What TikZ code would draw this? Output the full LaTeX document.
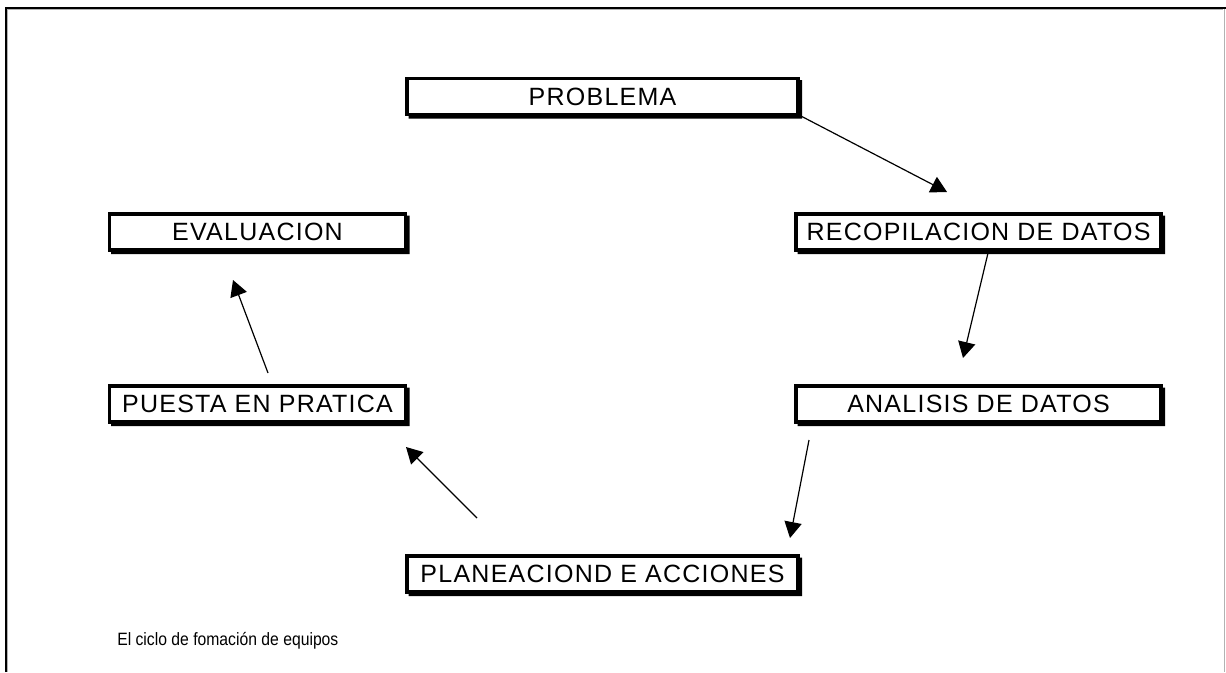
\documentclass[tikz,border=0pt]{standalone}
\usepackage{fontspec}
\setmainfont{Liberation Sans}
\newfontfamily\boxfont[LetterSpace=5]{Liberation Sans}
\newfontfamily\captfont[FakeStretch=0.88]{Liberation Sans}
\usetikzlibrary{arrows.meta,calc}
\begin{document}
\begin{tikzpicture}[x=0.75pt,y=-0.75pt,
  box/.style={draw, rectangle, line width=2.6pt, inner sep=0pt, outer sep=0pt,
    minimum height=27pt, font=\boxfont\fontsize{18.75pt}{20pt}\selectfont},
  conn/.style={line width=0.9pt, -{Triangle[length=12pt,width=13pt]}},
  capt/.style={font=\captfont\fontsize{13.4pt}{15pt}\selectfont, anchor=base west, inner sep=0pt}]
\useasboundingbox (0,0) rectangle (1226,672);
% frame
\draw[line width=1.5pt] (5.5,672) -- (5.5,7.5) -- (1226,7.5);
\draw[line width=0.75pt, gray!60] (7.5,672) -- (7.5,9.5) -- (1223,9.5);
\draw[line width=0.75pt, gray!60] (1224.5,9) -- (1224.5,672);
% boxes
\node[box, minimum width=293.25pt] (p) at (602.5,96.5) {PROBLEMA};
\node[box, minimum width=273.75pt] (r) at (978.5,232) {RECOPILACION DE DATOS};
\node[box, minimum width=222pt] (e) at (257.5,232) {EVALUACION};
\node[box, minimum width=222pt] (pu) at (257.5,404) {PUESTA EN PRATICA};
\node[box, minimum width=273.75pt] (a) at (978.5,404) {ANALISIS DE DATOS};
\node[box, minimum width=293.25pt] (pl) at (602.5,574) {PLANEACIOND E ACCIONES};
\foreach \n in {p,r,e,pu,a,pl}{
  \fill ($(\n.north east)+(1.5,1.5)$) -- ($(\n.north east)+(4,1.5)$)
    -- ($(\n.south east)+(4,4)$) -- ($(\n.south west)+(1.5,4)$)
    -- ($(\n.south west)+(1.5,1.5)$) -- ($(\n.south east)+(1.5,1.5)$) -- cycle;
}
% connector ends
\coordinate (t1) at (947,192);
\coordinate (s2) at (988,253);
\coordinate (t2) at (963,358);
\coordinate (s3) at (809,440);
\coordinate (t3) at (790,538);
\coordinate (s4) at (477,518);
\coordinate (t4) at (406,447);
\coordinate (s5) at (268,373);
\coordinate (t5) at (233,280);
\draw[conn] (p.south east) -- (t1);
\draw[conn] (s2) -- (t2);
\draw[conn] (s3) -- (t3);
\draw[conn] (s4) -- (t4);
\draw[conn] (s5) -- (t5);
% caption
\node[capt] (cap) at (117,645) {El ciclo de fomación de equipos};
\end{tikzpicture}
\end{document}
